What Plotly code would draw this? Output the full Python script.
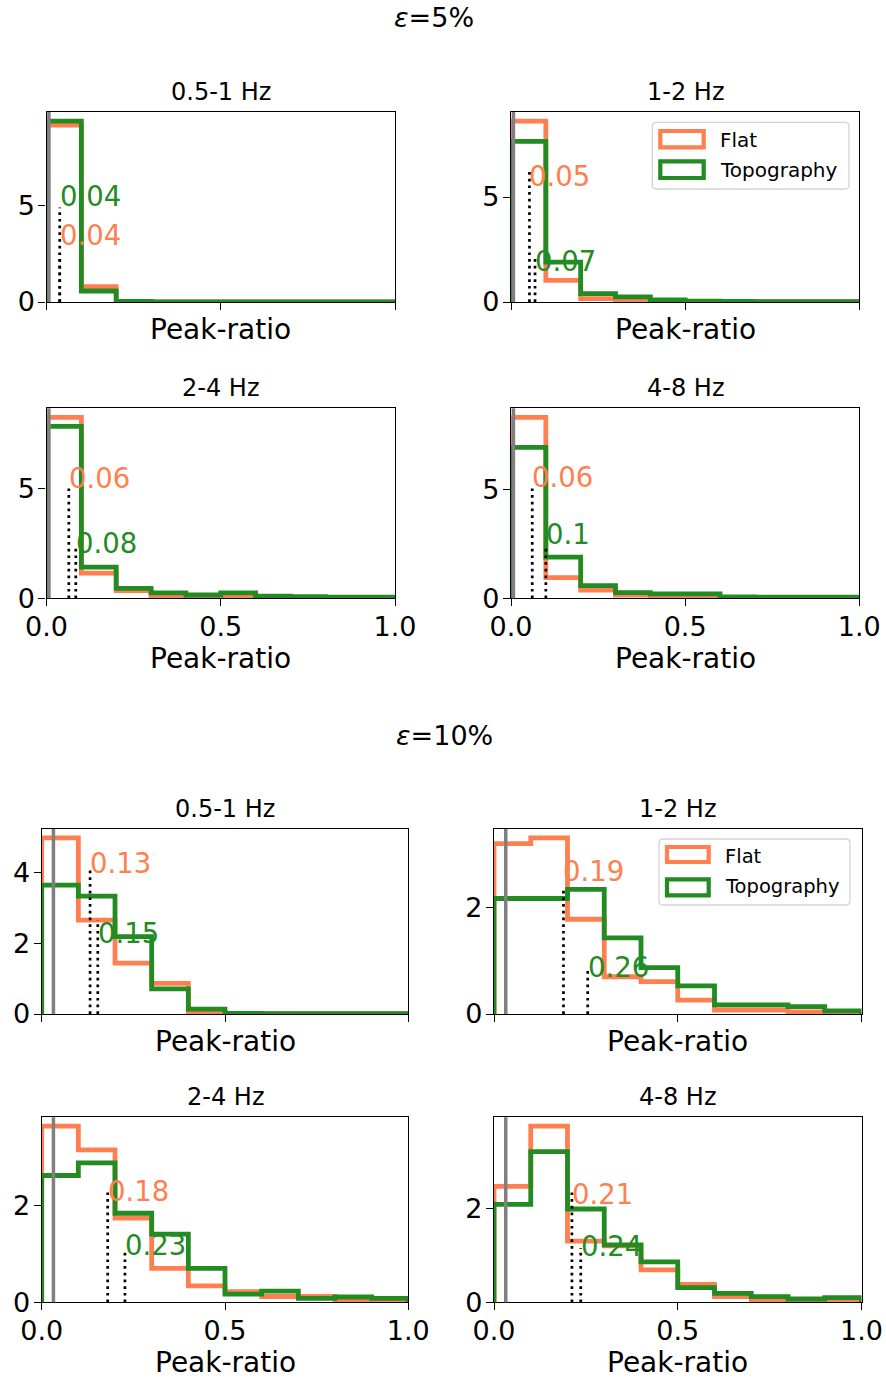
import plotly.graph_objects as go

W, H = 886, 1380

# ---------------- data ----------------
bin_edges = [0.0, 0.1, 0.2, 0.3, 0.4, 0.5, 0.6, 0.7, 0.8, 0.9, 1.0]
bands = ["0.5-1 Hz", "1-2 Hz", "2-4 Hz", "4-8 Hz"]
group_titles = ["<i>ε</i>=5%", "<i>ε</i>=10%"]
series_names = ["Flat", "Topography"]
series_colors = ["#FF7F50", "#228B22"]

# density histograms (bins of 0.1 between 0 and 1), one list per band
flat_e5 = [
    [9.18, 0.80, 0.02, 0.0, 0.0, 0.0, 0.0, 0.0, 0.0, 0.0],
    [8.62, 1.03, 0.16, 0.10, 0.05, 0.02, 0.01, 0.01, 0.0, 0.0],
    [8.21, 1.14, 0.35, 0.12, 0.08, 0.05, 0.02, 0.02, 0.01, 0.0],
    [8.32, 0.95, 0.38, 0.15, 0.08, 0.05, 0.03, 0.02, 0.01, 0.01],
]
topo_e5 = [
    [9.39, 0.57, 0.03, 0.01, 0.0, 0.0, 0.0, 0.0, 0.0, 0.0],
    [7.65, 1.90, 0.40, 0.24, 0.10, 0.04, 0.03, 0.02, 0.02, 0.02],
    [7.80, 1.41, 0.45, 0.25, 0.15, 0.25, 0.10, 0.08, 0.05, 0.05],
    [6.94, 1.89, 0.58, 0.26, 0.20, 0.20, 0.07, 0.05, 0.05, 0.05],
]
flat_e10 = [
    [4.99, 2.66, 1.44, 0.87, 0.05, 0.02, 0.01, 0.0, 0.0, 0.0],
    [3.20, 3.31, 1.78, 0.70, 0.61, 0.26, 0.075, 0.075, 0.04, 0.01],
    [3.64, 3.15, 1.74, 0.70, 0.34, 0.22, 0.12, 0.12, 0.02, 0.0],
    [2.46, 3.74, 1.30, 1.20, 0.69, 0.38, 0.12, 0.03, 0.05, 0.02],
]
topo_e10 = [
    [3.65, 3.34, 2.19, 0.71, 0.14, 0.02, 0.01, 0.01, 0.01, 0.01],
    [2.17, 2.17, 2.34, 1.43, 0.87, 0.53, 0.17, 0.17, 0.14, 0.06],
    [2.62, 2.88, 1.84, 1.41, 0.70, 0.17, 0.23, 0.08, 0.11, 0.08],
    [2.08, 3.20, 1.98, 1.22, 0.86, 0.31, 0.19, 0.12, 0.07, 0.10],
]

# medians (position of dotted line), their labels, line heights, label heights
med_flat_e5 = [0.038, 0.053, 0.064, 0.061]
med_topo_e5 = [0.038, 0.069, 0.084, 0.100]
lab_flat_e5 = ["0.04", "0.05", "0.06", "0.06"]
lab_topo_e5 = ["0.04", "0.07", "0.08", "0.1"]
vh_flat_e5 = [4.9, 6.32, 5.0, 5.07]
vh_topo_e5 = [2.5, 2.08, 2.42, 2.46]
ty_flat_e5 = [2.97, 5.51, 5.0, 5.1]
ty_topo_e5 = [4.96, 1.48, 2.07, 2.49]

med_flat_e10 = [0.132, 0.189, 0.180, 0.212]
med_topo_e10 = [0.153, 0.255, 0.227, 0.236]
lab_flat_e10 = ["0.13", "0.19", "0.18", "0.21"]
lab_topo_e10 = ["0.15", "0.26", "0.23", "0.24"]
vh_flat_e10 = [4.08, 2.39, 2.29, 2.35]
vh_topo_e10 = [2.66, 0.84, 1.10, 1.15]
ty_flat_e10 = [4.0, 2.5, 2.1, 2.09]
ty_topo_e10 = [2.0, 0.70, 0.98, 0.99]

eps_line = [0.007, 0.032]   # grey vertical reference line for each group

# ---------------- layout helpers ----------------
def px_x(p):
    return p / W


def px_y(p):
    return 1 - p / H


# subplot boxes in pixels: (left, right, top, bottom)
boxes = [
    (46.5, 395.0, 112.0, 302.0), (511.0, 859.3, 112.0, 302.0),
    (46.5, 395.0, 408.3, 598.3), (511.0, 859.3, 408.3, 598.3),
    (41.7, 408.3, 829.0, 1014.0), (494.0, 861.5, 829.0, 1014.0),
    (41.7, 408.3, 1117.3, 1302.3), (494.0, 861.5, 1117.3, 1302.3),
]

FONT = "DejaVu Sans"
fig = go.Figure()
shapes = []
annotations = []

groups = [
    (flat_e5, topo_e5, med_flat_e5, med_topo_e5, lab_flat_e5, lab_topo_e5,
     vh_flat_e5, vh_topo_e5, ty_flat_e5, ty_topo_e5, 5),
    (flat_e10, topo_e10, med_flat_e10, med_topo_e10, lab_flat_e10, lab_topo_e10,
     vh_flat_e10, vh_topo_e10, ty_flat_e10, ty_topo_e10, 2),
]

layout_axes = {}
for g, grp in enumerate(groups):
    (fl, tp, mf, mt, lf, lt, vf, vt, tf, tt, dtick) = grp
    for b in range(4):
        k = g * 4 + b + 1
        xa = "x" if k == 1 else f"x{k}"
        ya = "y" if k == 1 else f"y{k}"
        left, right, top, bottom = boxes[k - 1]
        bottom_row = b >= 2
        ymax = max(max(fl[b]), max(tp[b])) * 1.05

        for s, vals in enumerate([fl[b], tp[b]]):
            xs = [bin_edges[0]] + bin_edges[:-1] + [bin_edges[-1], bin_edges[-1]]
            ys = [0] + list(vals) + [vals[-1], 0]
            fig.add_trace(go.Scatter(
                x=xs, y=ys, xaxis=xa, yaxis=ya, mode="lines",
                line=dict(color=series_colors[s], width=4.8, shape="hv"),
                name=series_names[s], showlegend=False, hoverinfo="skip"))

        layout_axes["xaxis" if k == 1 else f"xaxis{k}"] = dict(
            domain=[px_x(left), px_x(right)], anchor=ya, range=[0, 1],
            tickvals=[0, 0.5, 1], ticktext=["0.0", "0.5", "1.0"],
            showticklabels=bottom_row, ticks="outside", ticklen=7, tickwidth=1.3,
            tickcolor="black", showline=True, linecolor="black", linewidth=1.3,
            mirror=True, showgrid=False, zeroline=False, automargin=False,
            ticklabelstandoff=-3,
            tickfont=dict(family=FONT, size=27, color="black"))
        layout_axes["yaxis" if k == 1 else f"yaxis{k}"] = dict(
            domain=[px_y(bottom), px_y(top)], anchor=xa, range=[0, ymax],
            tick0=0, dtick=dtick, ticks="outside", ticklen=7, tickwidth=1.3,
            tickcolor="black", showline=True, linecolor="black", linewidth=1.3,
            mirror=True, showgrid=False, zeroline=False, automargin=False,
            ticklabelstandoff=-2,
            tickfont=dict(family=FONT, size=27, color="black"))

        # grey reference line
        shapes.append(dict(type="line", xref=xa, yref=f"{ya} domain",
                           x0=eps_line[g], x1=eps_line[g], y0=0, y1=1,
                           line=dict(color="#808080", width=3.5), layer="above"))
        # dotted median lines
        for m, vh in [(mf[b], vf[b]), (mt[b], vt[b])]:
            shapes.append(dict(type="line", xref=xa, yref=ya, x0=m, x1=m, y0=0, y1=vh,
                               line=dict(color="black", width=2.7, dash="2.7px,4px"),
                               layer="above"))
        # median labels
        for m, ty, lab, col in [(mf[b], tf[b], lf[b], series_colors[0]),
                                (mt[b], tt[b], lt[b], series_colors[1])]:
            annotations.append(dict(x=m, y=ty, xref=xa, yref=ya, text=lab,
                                    showarrow=False, xanchor="left", yanchor="bottom",
                                    xshift=-2, yshift=-8,
                                    font=dict(family=FONT, size=27.5, color=col)))

        # subplot title
        annotations.append(dict(x=px_x((left + right) / 2), y=px_y(top), xref="paper",
                                yref="paper", text=bands[b], showarrow=False,
                                xanchor="center", yanchor="bottom", yshift=4,
                                font=dict(family=FONT, size=24, color="black")))
        # x-axis label (baseline distance below the axes)
        base = 71.5 if bottom_row else 38.0
        annotations.append(dict(x=px_x((left + right) / 2), y=px_y(bottom), xref="paper",
                                yref="paper", text="Peak-ratio", showarrow=False,
                                xanchor="center", yanchor="bottom", borderpad=0,
                                yshift=-(base + 6.6),
                                font=dict(family=FONT, size=28, color="black")))

# group titles
title_pos = [(433.5, 26.7), (444.5, 745.0)]
for g, (cx, base) in enumerate(title_pos):
    annotations.append(dict(x=px_x(cx), y=px_y(base), xref="paper", yref="paper",
                            text=group_titles[g], showarrow=False, xanchor="center",
                            yanchor="bottom", yshift=-(0.236 * 27 + 2),
                            font=dict(family=FONT, size=27, color="black")))

# manual legends (frame, outlined patches, labels)
legend_boxes = [
    dict(frame=(652.3, 849.0, 122.3, 189.0), px=(660.3, 703.7),
         py=[(131.0, 147.3), (161.3, 178.0)], tx=720.0, ty=[140.0, 170.0], fs=20),
    dict(frame=(659.0, 850.0, 839.0, 905.0), px=(667.0, 708.7),
         py=[(847.0, 862.0), (879.3, 895.3)], tx=725.0, ty=[856.0, 886.7], fs=19.5),
]
for lg in legend_boxes:
    l, r, t, btm = lg["frame"]
    rad = 4.0
    rx, ry = rad / W, rad / H
    X0, X1, Y0, Y1 = px_x(l), px_x(r), px_y(btm), px_y(t)
    path = (f"M {X0+rx},{Y1} L {X1-rx},{Y1} Q {X1},{Y1} {X1},{Y1-ry} "
            f"L {X1},{Y0+ry} Q {X1},{Y0} {X1-rx},{Y0} L {X0+rx},{Y0} "
            f"Q {X0},{Y0} {X0},{Y0+ry} L {X0},{Y1-ry} Q {X0},{Y1} {X0+rx},{Y1} Z")
    shapes.append(dict(type="path", xref="paper", yref="paper", path=path,
                       fillcolor="rgba(255,255,255,0.8)",
                       line=dict(color="#d4d4d4", width=1.3), layer="above"))
    for s in range(2):
        y0p, y1p = lg["py"][s]
        shapes.append(dict(type="rect", xref="paper", yref="paper",
                           x0=px_x(lg["px"][0]), x1=px_x(lg["px"][1]),
                           y0=px_y(y1p), y1=px_y(y0p),
                           line=dict(color=series_colors[s], width=4.2),
                           fillcolor="rgba(0,0,0,0)", layer="above"))
        annotations.append(dict(x=px_x(lg["tx"]), y=px_y(lg["ty"][s]), xref="paper",
                                yref="paper", text=series_names[s], showarrow=False,
                                xanchor="left", yanchor="middle", xshift=-2,
                                font=dict(family=FONT, size=lg["fs"], color="black")))

fig.update_layout(
    width=W, height=H, margin=dict(l=0, r=0, t=0, b=0, autoexpand=False),
    paper_bgcolor="white", plot_bgcolor="white", showlegend=False,
    shapes=shapes, annotations=annotations, **layout_axes)

fig.write_html("out.html")
